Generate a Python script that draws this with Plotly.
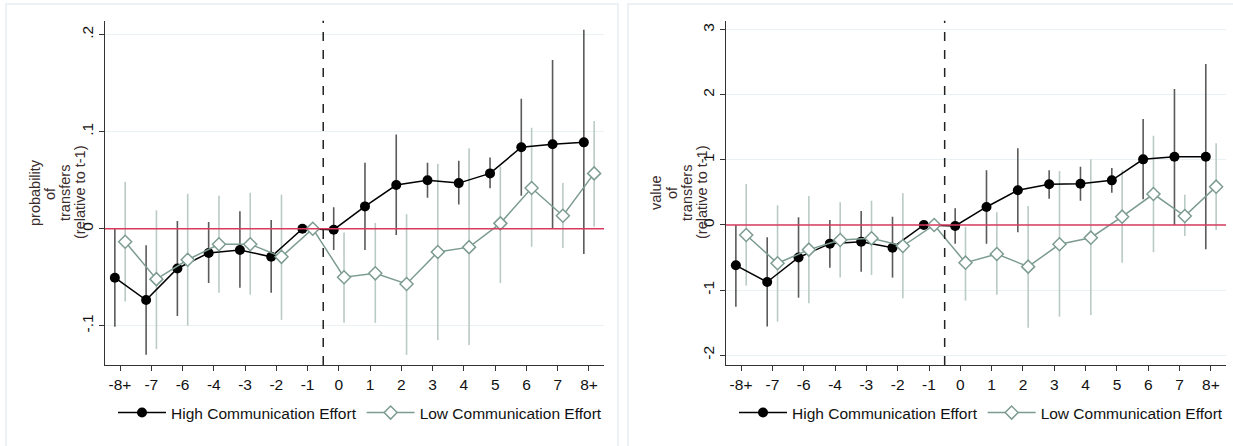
import numpy as np
import plotly.graph_objects as go

# event-time categories (no -5 in the original)
periods = ["-8+", "-7", "-6", "-4", "-3", "-2", "-1", "0", "1", "2", "3", "4", "5", "6", "7", "8+"]

# ---- left panel: probability of transfers ----
prob_high = [-0.0505, -0.0735, -0.041, -0.025, -0.022, -0.029, 0.0, -0.001, 0.023, 0.045, 0.050, 0.047, 0.057, 0.084, 0.087, 0.089]
prob_high_lo = [-0.101, -0.130, -0.090, -0.056, -0.061, -0.066, 0.0, -0.022, -0.022, -0.0065, 0.032, 0.025, 0.0416, 0.034, 0.0, -0.026]
prob_high_hi = [0.0, -0.017, 0.008, 0.007, 0.018, 0.009, 0.0, 0.022, 0.068, 0.097, 0.068, 0.070, 0.0735, 0.134, 0.174, 0.205]
prob_low = [-0.0134, -0.052, -0.032, -0.016, -0.016, -0.029, 0.0, -0.050, -0.046, -0.057, -0.024, -0.019, 0.0055, 0.042, 0.0134, 0.057]
prob_low_lo = [-0.075, -0.124, -0.100, -0.066, -0.068, -0.094, 0.0, -0.097, -0.097, -0.130, -0.115, -0.120, -0.056, -0.0186, -0.020, 0.002]
prob_low_hi = [0.0485, 0.019, 0.036, 0.034, 0.037, 0.035, 0.0, -0.004, 0.006, 0.015, 0.067, 0.083, 0.064, 0.104, 0.047, 0.111]

# ---- right panel: value of transfers ----
val_high = [-0.62, -0.876, -0.50, -0.287, -0.256, -0.348, 0.0, -0.015, 0.277, 0.533, 0.625, 0.635, 0.686, 1.009, 1.050, 1.050]
val_high_lo = [-1.255, -1.56, -1.117, -0.656, -0.717, -0.809, 0.0, -0.287, -0.287, -0.113, 0.405, 0.374, 0.497, 0.394, 0.0, -0.374]
val_high_hi = [0.0, -0.19, 0.118, 0.077, 0.215, 0.128, 0.0, 0.256, 0.84, 1.178, 0.84, 0.896, 0.876, 1.629, 2.09, 2.474]
val_low = [-0.154, -0.589, -0.379, -0.23, -0.205, -0.323, 0.0, -0.579, -0.446, -0.640, -0.297, -0.195, 0.128, 0.476, 0.138, 0.589]
val_low_lo = [-0.932, -1.486, -1.204, -0.809, -0.768, -1.127, 0.0, -1.163, -1.071, -1.578, -1.409, -1.383, -0.579, -0.42, -0.169, -0.077]
val_low_hi = [0.63, 0.302, 0.446, 0.348, 0.374, 0.487, 0.0, -0.026, 0.195, 0.292, 0.83, 1.009, 0.84, 1.373, 0.466, 1.255]

prob_ticks = [-0.1, 0, 0.1, 0.2]
prob_ticktext = ["-.1", "0", ".1", ".2"]
val_ticks = [-2, -1, 0, 1, 2, 3]
val_ticktext = ["-2", "-1", "0", "1", "2", "3"]

prob_title = ["probability", "of", "transfers", "(relative to t-1)"]
val_title = ["value", "of", "transfers", "(relative to t-1)"]

W, H = 1233, 446
FONT = "Liberation Sans, Arial, sans-serif"
FS = 15.5
HIGH_C = "black"
HIGH_CI = "#5a5a5a"
LOW_C = "#7d9c91"
LOW_CI = "#b9cbc3"
GRID = "#e9f1f4"

idx = np.arange(len(periods))
shift = 0.165

fig = go.Figure()


def add_panel(n, high, hlo, hhi, low, llo, lhi, legend):
    xa = "x" if n == 1 else "x%d" % n
    ya = "y" if n == 1 else "y%d" % n
    high, hlo, hhi = map(np.array, (high, hlo, hhi))
    low, llo, lhi = map(np.array, (low, llo, lhi))
    # confidence intervals first so the lines sit on top
    fig.add_trace(go.Scatter(
        x=idx - shift, y=high, mode="markers", marker=dict(size=0.1, opacity=0),
        error_y=dict(type="data", symmetric=False, array=hhi - high, arrayminus=high - hlo,
                     width=0, thickness=1.6, color=HIGH_CI),
        showlegend=False, hoverinfo="skip", xaxis=xa, yaxis=ya))
    fig.add_trace(go.Scatter(
        x=idx + shift, y=low, mode="markers", marker=dict(size=0.1, opacity=0),
        error_y=dict(type="data", symmetric=False, array=lhi - low, arrayminus=low - llo,
                     width=0, thickness=1.6, color=LOW_CI),
        showlegend=False, hoverinfo="skip", xaxis=xa, yaxis=ya))
    fig.add_trace(go.Scatter(
        x=idx - shift, y=high, mode="lines+markers", name="High Communication Effort",
        line=dict(color=HIGH_C, width=1.5),
        marker=dict(symbol="circle", size=10, color=HIGH_C),
        legend=legend, xaxis=xa, yaxis=ya))
    fig.add_trace(go.Scatter(
        x=idx + shift, y=low, mode="lines+markers", name="Low Communication Effort",
        line=dict(color=LOW_C, width=1.5),
        marker=dict(symbol="diamond", size=10, color="white", line=dict(color=LOW_C, width=1.5)),
        legend=legend, xaxis=xa, yaxis=ya))


add_panel(1, prob_high, prob_high_lo, prob_high_hi, prob_low, prob_low_lo, prob_low_hi, "legend")
add_panel(2, val_high, val_high_lo, val_high_hi, val_low, val_low_lo, val_low_hi, "legend2")

ydom = [1 - 365 / H, 1 - 20.7 / H]
xaxis_common = dict(
    tickvals=list(idx), ticktext=periods, range=[-0.48, len(periods) - 0.52],
    showline=True, linecolor="#333", linewidth=1.2, ticks="outside", ticklen=5,
    tickcolor="#333", showgrid=False, zeroline=False,
    tickfont=dict(family=FONT, size=FS, color="#111"),
)
yaxis_common = dict(
    showline=True, linecolor="#333", linewidth=1.2, ticks="outside", ticklen=5,
    tickcolor="#333", showgrid=True, gridcolor=GRID, gridwidth=1.2, zeroline=False,
    tickangle=-90, tickfont=dict(family=FONT, size=FS, color="#111"), domain=ydom,
)
legend_common = dict(orientation="h", xanchor="center", y=1 - 413 / H, yanchor="middle",
                     font=dict(family=FONT, size=FS, color="#111"), itemwidth=48,
                     bgcolor="rgba(0,0,0,0)", tracegroupgap=0)

fig.update_layout(
    width=W, height=H, margin=dict(l=0, r=0, t=0, b=0),
    paper_bgcolor="white", plot_bgcolor="white",
    font=dict(family=FONT, size=FS, color="#111"),
    xaxis=dict(xaxis_common, domain=[105 / W, 604 / W], anchor="y"),
    yaxis=dict(yaxis_common, range=[-0.1405, 0.2144], tickvals=prob_ticks,
               ticktext=prob_ticktext, anchor="x"),
    xaxis2=dict(xaxis_common, domain=[726 / W, 1226 / W], anchor="y2"),
    yaxis2=dict(yaxis_common, range=[-2.152, 3.14], tickvals=val_ticks,
                ticktext=val_ticktext, anchor="x2"),
    legend=dict(legend_common, x=360 / W),
    legend2=dict(legend_common, x=981 / W),
)

# reference lines: zero line and treatment timing
for n in (1, 2):
    xa = "x" if n == 1 else "x%d" % n
    ya = "y" if n == 1 else "y%d" % n
    fig.add_shape(type="line", xref=xa + " domain", yref=ya, x0=0, x1=1, y0=0, y1=0,
                  line=dict(color="#d93a5e", width=1.5))
    fig.add_shape(type="line", xref=xa, yref=ya + " domain", x0=6.5, x1=6.5, y0=0, y1=1,
                  line=dict(color="#222", width=1.5, dash="dash"))

# y-axis titles, one line each, stacked as in the original
for xs, lines in (([35, 50, 65, 80], prob_title), ([656, 672, 687, 702], val_title)):
    for px_x, txt in zip(xs, lines):
        fig.add_annotation(text=txt, xref="paper", yref="paper", x=px_x / W, y=1 - 193 / H,
                           textangle=-90, showarrow=False, xanchor="center", yanchor="middle",
                           font=dict(family=FONT, size=14.5, color="#3a2c2c"))

# light panel frames
fig.add_shape(type="rect", xref="paper", yref="paper", x0=6 / W, x1=618 / W, y0=-0.05, y1=1 - 4 / H,
              line=dict(color="#e6edf2", width=1.5), layer="below")
fig.add_shape(type="rect", xref="paper", yref="paper", x0=628 / W, x1=1.05, y0=-0.05, y1=1 - 4 / H,
              line=dict(color="#e6edf2", width=1.5), layer="below")

fig.write_html("out.html", config={"displayModeBar": False},
               post_script="document.body.style.margin='0';")
